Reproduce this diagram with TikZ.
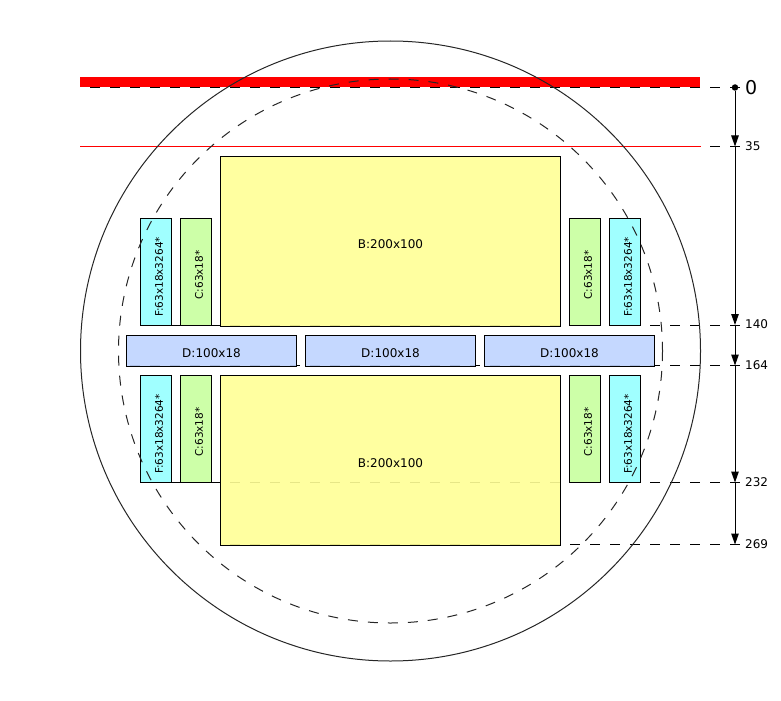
\documentclass[tikz,border=0pt]{standalone}
\usepackage{fontspec}
\setmainfont{DejaVu Sans}
\usetikzlibrary{arrows.meta}
\tikzset{%
  tipA/.tip={Triangle[length=11bp,width=7.5bp]},
  levline/.style={black,line width=1bp,dash pattern=on 10bp off 10bp},
  slot/.style={draw=black,line width=1bp,fill opacity=.9,text opacity=1,inner sep=0pt,text height=14bp,text depth=0bp,font=\fontsize{12bp}{14bp}\selectfont},
  boxB/.style={slot,fill=bcol,minimum width=340bp,minimum height=170bp},
  boxD/.style={slot,fill=dcol,minimum width=170bp,minimum height=31bp},
  boxV/.style={slot,minimum width=107bp,rotate=90,text height=13.6bp,text depth=0bp,font=\fontsize{10.5bp}{12bp}\selectfont},
  boxC/.style={boxV,fill=ccol,minimum height=31.5bp},
  boxF/.style={boxV,fill=fcol,minimum height=31bp},
  levlabel/.style={anchor=west,inner sep=0pt,yshift=.7bp,font=\fontsize{12bp}{14bp}\selectfont},
}
\definecolor{bcol}{HTML}{FFFF96}
\definecolor{dcol}{HTML}{BFD4FF}
\definecolor{ccol}{HTML}{C8FF9F}
\definecolor{fcol}{HTML}{96FFFF}
\newcommand{\ftext}{F:63x18x3264*\hspace*{11bp}}
\newcommand{\ctext}{C:63x18*\hspace*{7bp}}
\begin{document}
\begin{tikzpicture}[x=1bp,y=-1bp]
\useasboundingbox (0,0) rectangle (781,701);
% levels
\foreach \lev/\xpos/\ypos in {0/90/87.5,35/90/146.5,140/150/325,164/130/365.5,232/150/482.5,269/230/544.5} {
  \coordinate (s\lev) at (\xpos,\ypos);
  \coordinate (e\lev) at (740,\ypos);
  \coordinate (a\lev) at (735,\ypos);
  \draw[levline] (s\lev) -- (e\lev);
}
\foreach \lev in {35,140,164,232,269} {
  \node[levlabel] (lab\lev) at ([xshift=10bp]a\lev) {\lev};
}
\node[levlabel,yshift=-.7bp,font=\fontsize{19bp}{21bp}\selectfont] (lab0) at ([xshift=10bp]a0) {0};
% red limits
\fill[red] (80,77) rectangle (700,87);
\draw[red,line width=1bp] (80,146.5) -- (701,146.5);
% boxes
\node[boxB,minimum height=169.5bp] (B1) at (390.5,241.25) {B:200x100};
\node[boxB] (B2) at (390.5,460.5) {B:200x100};
\node[boxD] (D1) at (211.5,350.5) {D:100x18};
\node[boxD] (D2) at (390.5,350.5) {D:100x18};
\node[boxD] (D3) at (569.5,350.5) {D:100x18};
\node[boxF] (F1) at (156,271.5) {\ftext};
\node[boxC] (C1) at (196,271.5) {\ctext};
\node[boxC] (C2) at (585,271.5) {\ctext};
\node[boxF] (F2) at (625,271.5) {\ftext};
\node[boxF] (F3) at (156,428.5) {\ftext};
\node[boxC] (C3) at (196,428.5) {\ctext};
\node[boxC] (C4) at (585,428.5) {\ctext};
\node[boxF] (F4) at (625,428.5) {\ftext};
% circles
\draw[black!85,line width=1bp] (390.5,351) circle (310);
\draw[black!85,line width=1bp,dash pattern=on 10bp off 10bp] (390.5,351) circle (272);
% axis
\node[circle,fill=black,inner sep=0pt,minimum size=6.5bp] (dot0) at (a0) {};
\draw[line width=1bp,-tipA] (dot0) -- (a35);
\foreach \from/\to in {35/140,140/164,164/232,232/269} {
  \draw[line width=1bp,-tipA] (a\from) -- (a\to);
}
\end{tikzpicture}
\end{document}
